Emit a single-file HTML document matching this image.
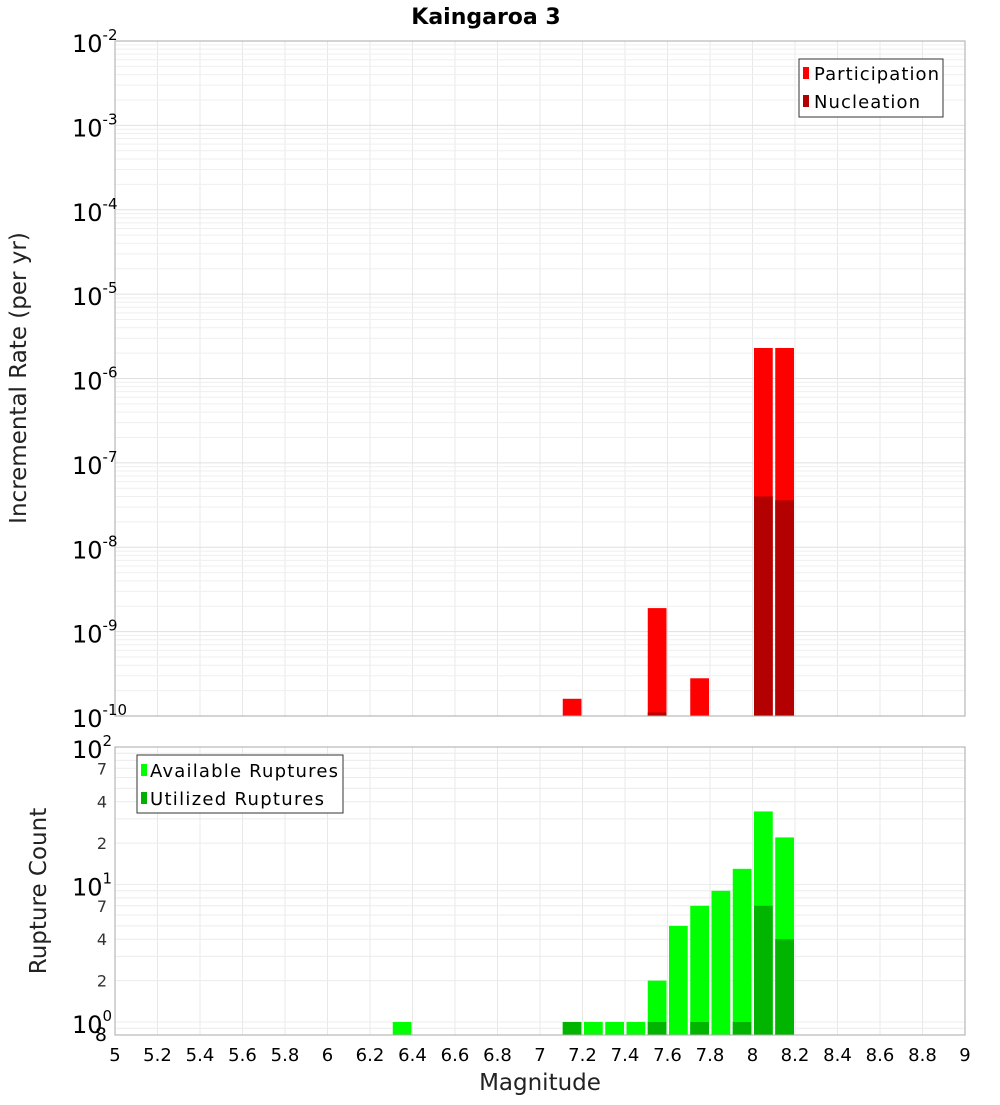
<!DOCTYPE html>
<html><head><meta charset="utf-8"><style>
body{margin:0;background:#fff;font-family:"Liberation Sans","DejaVu Sans",sans-serif}
svg text{font-family:"DejaVu Sans","Liberation Sans",sans-serif}
</style></head><body>
<svg id="c" width="1000" height="1100" xmlns="http://www.w3.org/2000/svg">
<rect width="1000" height="1100" fill="#fff"/>
<text x="486" y="24" font-size="22" font-weight="bold" text-anchor="middle">Kaingaroa 3</text>
<g id="topG"></g>
<g id="botG"></g>
<text transform="translate(26,378) rotate(-90)" font-size="23" text-anchor="middle" fill="#222">Incremental Rate (per yr)</text>
<text transform="translate(46,891) rotate(-90)" font-size="23" text-anchor="middle" fill="#222">Rupture Count</text>
<text x="540" y="1090" font-size="23" text-anchor="middle" fill="#222">Magnitude</text>
<g>
<rect x="799" y="59" width="144" height="58" fill="#fff" stroke="#333"/>
<rect x="803" y="67" width="6" height="12" fill="#f00"/><text x="814" y="80" font-size="18" textLength="125">Participation</text>
<rect x="803" y="95" width="6" height="12" fill="#b00000"/><text x="814" y="108" font-size="18" textLength="106">Nucleation</text>
</g>
<g>
<rect x="137" y="755" width="206" height="58" fill="#fff" stroke="#333"/>
<rect x="141" y="764" width="6" height="12" fill="#0f0"/><text x="150" y="777" font-size="18" textLength="188">Available Ruptures</text>
<rect x="141" y="792" width="6" height="12" fill="#00b000"/><text x="150" y="805" font-size="18" textLength="174">Utilized Ruptures</text>
</g>
</svg>
<script>
const mags=[6.3,7.1,7.2,7.3,7.4,7.5,7.6,7.7,7.8,7.9,8.0,8.1];
const participation=[0,1.6e-10,0,0,0,1.9e-9,0,2.8e-10,0,0,2.3e-6,2.3e-6];
const nucleation=[0,0,0,0,0,1.1e-10,0,0,0,0,4.0e-8,3.6e-8];
const available=[1,1,1,1,1,2,5,7,9,13,34,22];
const utilized=[0,1,0,0,0,1,0,1,0,1,7,4];
const xTicks=[5,5.2,5.4,5.6,5.8,6,6.2,6.4,6.6,6.8,7,7.2,7.4,7.6,7.8,8,8.2,8.4,8.6,8.8,9];
const rateExps=[-2,-3,-4,-5,-6,-7,-8,-9,-10];
const countExps=[2,1,0];
const NS='http://www.w3.org/2000/svg';
const X0=115,X1=965;
const xs=m=>X0+(m-5)/4*(X1-X0);
const T0=41,T1=716;
const yT=v=>T0+(-2-Math.log10(v))/8*(T1-T0);
const B0=747,B1=1035,BD=137.5;
const yB=v=>B0+(2-Math.log10(v))*BD;
function mk(p,t,a){const e=document.createElementNS(NS,t);for(const k in a)e.setAttribute(k,a[k]);p.appendChild(e);return e;}
const topG=document.getElementById('topG'),botG=document.getElementById('botG');
function vgrid(g,y0,y1){xTicks.forEach(t=>{const l=mk(g,'line',{x1:xs(t),x2:xs(t),y1:y0,y2:y1,stroke:'#e8e8e8'});

});}
vgrid(topG,T0,T1);vgrid(botG,B0,B1);
for(let e=-10;e<-2;e++)for(let k=1;k<10;k++){const y=yT(k*Math.pow(10,e));const l=mk(topG,'line',{x1:X0,x2:X1,y1:y,y2:y,stroke:k==1?'#e0e0e0':'#efefef'});

}
for(let e=-1;e<2;e++)for(let k=1;k<10;k++){const v=k*Math.pow(10,e);const y=yB(v);if(y>B1||y<B0)continue;const l=mk(botG,'line',{x1:X0,x2:X1,y1:y,y2:y,stroke:'#ececec'});

}
function bar(g,m,v,base,col,name){if(!v)return;const x=xs(m)+1.5,w=xs(m+0.1)-xs(m)-2.5;const y=g===topG?yT(v):yB(v);const r=mk(g,'rect',{x:x,y:y,width:w,height:base-y,fill:col});

}
mags.forEach((m,i)=>{bar(topG,m,participation[i],T1,'#ff0000','participation-bar');bar(topG,m,nucleation[i],T1,'#b30000','nucleation-bar');
bar(botG,m,available[i],B1,'#00ff00','available-bar');bar(botG,m,utilized[i],B1,'#00b400','utilized-bar');});
mk(topG,'rect',{x:X0,y:T0,width:X1-X0,height:T1-T0,fill:'none',stroke:'#aaa'});
mk(botG,'rect',{x:X0,y:B0,width:X1-X0,height:B1-B0,fill:'none',stroke:'#aaa'});
rateExps.forEach(e=>{const t=mk(topG,'text',{x:72,y:yT(Math.pow(10,e))+11,'font-size':24});


t.innerHTML='10<tspan dy="-12" font-size="15">'+e+'</tspan>';});
countExps.forEach(e=>{const t=mk(botG,'text',{x:72,y:yB(Math.pow(10,e))+11,'font-size':24});


t.innerHTML='10<tspan dy="-12" font-size="15">'+e+'</tspan>';});
[[70,'7'],[40,'4'],[20,'2'],[7,'7'],[4,'4'],[2,'2']].forEach(p=>{const t=mk(botG,'text',{x:107,y:yB(p[0])+6,'font-size':16,'text-anchor':'end',fill:'#333'});


t.textContent=p[1];});
{const t=mk(botG,'text',{x:107,y:1041,'font-size':19,'text-anchor':'end'});


t.textContent='8';}
xTicks.forEach(v=>{const t=mk(botG,'text',{x:xs(v),y:1061,'font-size':18,'text-anchor':'middle'});


t.textContent=String(v);});
</script>
</body></html>
